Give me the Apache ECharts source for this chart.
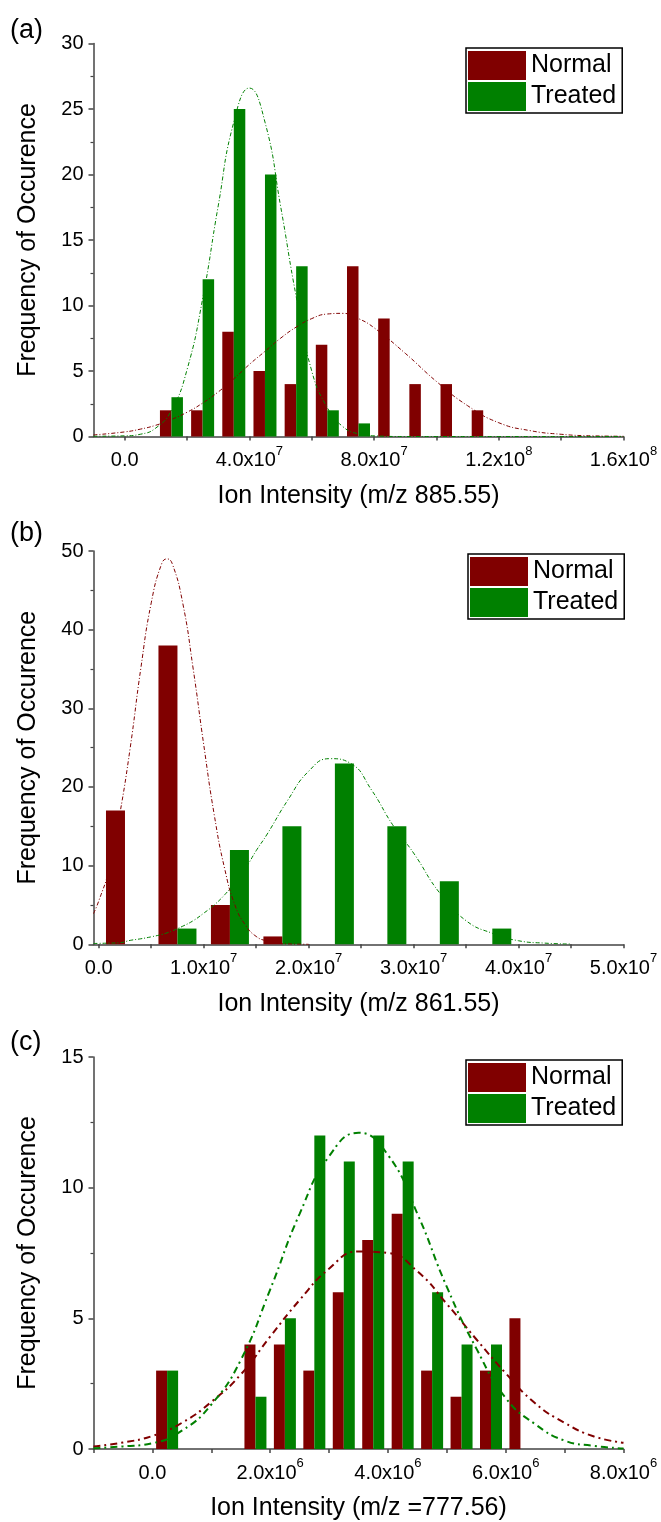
<!DOCTYPE html>
<html>
<head>
<meta charset="utf-8">
<style>
  html, body { margin: 0; padding: 0; background: #fff; }
  #chart { width: 661px; height: 1522px; }
</style>
<script src="https://cdn.jsdelivr.net/npm/echarts@6/dist/echarts.min.js"></script>
</head>
<body>
<div id="chart"></div>
<script>
  // ---- panel (a): m/z 885.55 ----
  var binsA = [1.5e7, 2.5e7, 3.5e7, 4.5e7, 5.5e7, 6.5e7, 7.5e7, 8.5e7, 9.5e7, 1.05e8, 1.15e8]
  var normalA = [2, 2, 8, 5, 4, 7, 13, 9, 4, 4, 2]
  var treatedA = [3, 12, 25, 20, 13, 2, 1, 0, 0, 0, 0]
  var fitXA = [-1e7, 0, 0.5e7, 1e7, 1.5e7, 2e7, 2.5e7, 3e7, 3.5e7, 4e7, 4.5e7, 5e7, 5.5e7, 6e7, 6.5e7,
    7e7, 7.5e7, 8e7, 9e7, 1e8, 1.1e8, 1.2e8, 1.3e8, 1.4e8, 1.5e8, 1.6e8]
  var normalFitA = [0.12, 0.35, 0.56, 0.86, 1.3, 1.85, 2.55, 3.4, 4.4, 5.5, 6.5, 7.5, 8.35, 9.0, 9.35,
    9.4, 9.0, 8.3, 6.35, 4.2, 2.35, 1.05, 0.45, 0.17, 0.05, 0.02]
  var treatedFitA = [0.02, 0.05, 0.17, 0.65, 2.0, 5.1, 10.5, 17.6, 24.0, 26.6, 24.0, 17.6, 10.7, 5.0, 2.2,
    0.75, 0.2, 0.05, 0, 0, 0, 0, 0, 0, 0, 0]
  var tickA = [0, 2e7, 4e7, 6e7, 8e7, 1e8, 1.2e8, 1.4e8, 1.6e8]
  var labelA = [0, 4e7, 8e7, 1.2e8, 1.6e8]

  // ---- panel (b): m/z 861.55 ----
  var binsB = [0.25e7, 0.75e7, 1.25e7, 1.75e7, 2.25e7, 2.75e7, 3.25e7, 3.75e7]
  var normalB = [17, 38, 5, 1, 0, 0, 0, 0]
  var treatedB = [0, 2, 12, 15, 23, 15, 8, 2]
  var fitXB = [-0.05e7, 0, 0.1e7, 0.2e7, 0.3e7, 0.4e7, 0.5e7, 0.6e7, 0.65e7, 0.7e7, 0.8e7, 0.9e7, 1e7,
    1.1e7, 1.2e7, 1.3e7, 1.4e7, 1.5e7, 1.6e7, 1.8e7, 2e7, 2.2e7, 2.4e7, 2.6e7, 2.8e7, 3e7, 3.25e7,
    3.5e7, 3.75e7, 4e7, 4.25e7, 4.5e7]
  var normalFitB = [3.9, 5.5, 9.6, 16.5, 25.0, 35.0, 43.4, 48.4, 49.0, 48.4, 43.4, 35.0, 25.4,
    16.5, 9.6, 4.9, 2.4, 1.0, 0.45, 0.05, 0, null, null, null, null, null, null,
    null, null, null, null, null]
  var treatedFitB = [0.1, 0.12, 0.15, 0.2, 0.5, 0.7, 0.95, 1.25, 1.45, 1.7, 2.3, 3.0, 3.95,
    5.0, 6.3, 7.9, 9.7, 11.9, 13.9, 18.3, 22.0, 23.6, 23.0, 19.6, 15.2, 11.6, 6.5,
    3.0, 1.4, 0.45, 0.15, 0.03]
  var tickB = [0, 0.5e7, 1e7, 1.5e7, 2e7, 2.5e7, 3e7, 3.5e7, 4e7, 4.5e7, 5e7]
  var labelB = [0, 1e7, 2e7, 3e7, 4e7, 5e7]

  // ---- panel (c): m/z 777.56 ----
  var binsC = [0.25e6, 0.75e6, 1.25e6, 1.75e6, 2.25e6, 2.75e6, 3.25e6, 3.75e6, 4.25e6, 4.75e6, 5.25e6, 5.75e6, 6.25e6]
  var normalC = [3, 0, 0, 4, 4, 3, 6, 8, 9, 3, 2, 3, 5]
  var treatedC = [3, 0, 0, 2, 5, 12, 11, 12, 11, 6, 4, 4, 0]
  var fitXC = [-1e6, -0.5e6, 0, 0.5e6, 1e6, 1.5e6, 2e6, 2.5e6, 3e6, 3.5e6, 4e6, 4.5e6, 5e6, 5.5e6,
    6e6, 6.5e6, 7e6, 7.5e6, 8e6]
  var normalFitC = [0.1, 0.25, 0.5, 1.0, 1.8, 2.85, 4.3, 5.7, 6.9, 7.56, 7.5, 6.8, 5.55, 4.2,
    2.9, 1.75, 1.0, 0.48, 0.24]
  var treatedFitC = [0.03, 0.1, 0.22, 0.7, 1.7, 3.4, 6.1, 9.0, 11.2, 12.1, 11.25, 9.0, 6.2, 3.85,
    1.95, 0.95, 0.32, 0.12, 0.02]
  var tickC = [-1e6, 0, 1e6, 2e6, 3e6, 4e6, 5e6, 6e6, 7e6, 8e6]
  var labelC = [0, 2e6, 4e6, 6e6, 8e6]

  var RED = '#800000'
  var GREEN = '#008000'
  var FONT = '"Liberation Sans", Arial, sans-serif'

  function pairs(xs, ys) {
    return xs.map(function (x, i) { return [x, ys[i]] })
  }

  function sciLabel(v) {
    if (v === 0) return '{m|0.0}'
    var exp = Math.floor(Math.log10(v) + 1e-9)
    var mant = v / Math.pow(10, exp)
    return '{m|' + mant.toFixed(1) + 'x10}{e|' + exp + '}'
  }

  var panels = [
    { tag: '(a)', top: 43.5, height: 393, xmin: -1e7, xmax: 1.6e8, ymax: 30, yint: 5,
      ticks: tickA, labels: labelA, name: 'Ion Intensity (m/z 885.55)',
      bins: binsA, normal: normalA, treated: treatedA, barW: 11.5,
      fitX: fitXA, normalFit: normalFitA, treatedFit: treatedFitA, lineW: 1, dash: [4, 2, 1, 2],
      tagTop: 17, legendLeft: 466, legendTop: 48 },
    { tag: '(b)', top: 551, height: 393.3, xmin: -0.05e7, xmax: 5e7, ymax: 50, yint: 10,
      ticks: tickB, labels: labelB, name: 'Ion Intensity (m/z 861.55)',
      bins: binsB, normal: normalB, treated: treatedB, barW: 19,
      fitX: fitXB, normalFit: normalFitB, treatedFit: treatedFitB, lineW: 1, dash: [4, 2, 1, 2],
      tagTop: 520, legendLeft: 468, legendTop: 554 },
    { tag: '(c)', top: 1057, height: 393.3, xmin: -1e6, xmax: 8e6, ymax: 15, yint: 5,
      ticks: tickC, labels: labelC, name: 'Ion Intensity (m/z =777.56)',
      bins: binsC, normal: normalC, treated: treatedC, barW: 11,
      fitX: fitXC, normalFit: normalFitC, treatedFit: treatedFitC, lineW: 2, dash: [7, 4, 2, 4],
      tagTop: 1029, legendLeft: 466, legendTop: 1060 }
  ]

  var option = {
    animation: false,
    textStyle: { fontFamily: FONT, color: '#000' },
    title: [], grid: [], xAxis: [], yAxis: [], legend: [], series: []
  }

  panels.forEach(function (p, i) {
    option.title.push({
      text: p.tag, left: 10, top: p.tagTop, padding: 0,
      textStyle: { fontFamily: FONT, fontSize: 27, fontWeight: 'normal', color: '#000' }
    })
    option.grid.push({ left: 93.5, top: p.top, width: 530, height: p.height })
    option.xAxis.push({
      type: 'value', gridIndex: i, min: p.xmin, max: p.xmax,
      name: p.name, nameLocation: 'middle', nameGap: 47,
      nameTextStyle: { fontFamily: FONT, fontSize: 25, color: '#000' },
      axisLine: { onZero: false, lineStyle: { color: '#444', width: 1.5 } },
      axisTick: { customValues: p.ticks, length: 4, lineStyle: { color: '#444', width: 1.5 } },
      axisLabel: {
        customValues: p.labels, margin: 8, color: '#000', formatter: sciLabel,
        rich: {
          m: { fontFamily: FONT, fontSize: 20, lineHeight: 26, verticalAlign: 'bottom', color: '#000' },
          e: { fontFamily: FONT, fontSize: 13, lineHeight: 13, verticalAlign: 'top', color: '#000' }
        }
      },
      splitLine: { show: false }
    })
    option.yAxis.push({
      type: 'value', gridIndex: i, min: 0, max: p.ymax, interval: p.yint,
      name: 'Frequency of Occurence', nameLocation: 'middle', nameGap: 53, nameRotate: 90,
      nameTextStyle: { fontFamily: FONT, fontSize: 25, color: '#000' },
      axisLine: { show: true, onZero: false, lineStyle: { color: '#444', width: 1.5 } },
      axisTick: { show: true, length: 5, lineStyle: { color: '#444', width: 1.5 } },
      minorTick: { show: true, splitNumber: 2, length: 3, lineStyle: { color: '#444', width: 1.2 } },
      axisLabel: { fontFamily: FONT, fontSize: 20, color: '#000', margin: 10 },
      splitLine: { show: false }
    })
    option.legend.push({
      left: p.legendLeft, top: p.legendTop, orient: 'vertical', selectedMode: false,
      icon: 'rect', itemWidth: 58, itemHeight: 29, itemGap: 2,
      padding: [3, 6, 2, 2], borderColor: '#000', borderWidth: 1.5,
      textStyle: { fontFamily: FONT, fontSize: 25, color: '#000' },
      data: ['Normal', 'Treated']
    })
    option.series.push({
      name: 'Normal', type: 'bar', xAxisIndex: i, yAxisIndex: i,
      barWidth: p.barW, barGap: '0%', itemStyle: { color: RED },
      data: pairs(p.bins, p.normal)
    }, {
      name: 'Treated', type: 'bar', xAxisIndex: i, yAxisIndex: i,
      barWidth: p.barW, barGap: '0%', itemStyle: { color: GREEN },
      data: pairs(p.bins, p.treated)
    }, {
      name: 'Normal fit', type: 'line', xAxisIndex: i, yAxisIndex: i, smooth: true,
      showSymbol: false, silent: true, z: 3,
      lineStyle: { color: RED, width: p.lineW, type: p.dash },
      data: pairs(p.fitX, p.normalFit)
    }, {
      name: 'Treated fit', type: 'line', xAxisIndex: i, yAxisIndex: i, smooth: true,
      showSymbol: false, silent: true, z: 3,
      lineStyle: { color: GREEN, width: p.lineW, type: p.dash },
      data: pairs(p.fitX, p.treatedFit)
    })
  })

  var chart = echarts.init(document.getElementById('chart'))
  chart.setOption(option)
</script>
</body>
</html>
